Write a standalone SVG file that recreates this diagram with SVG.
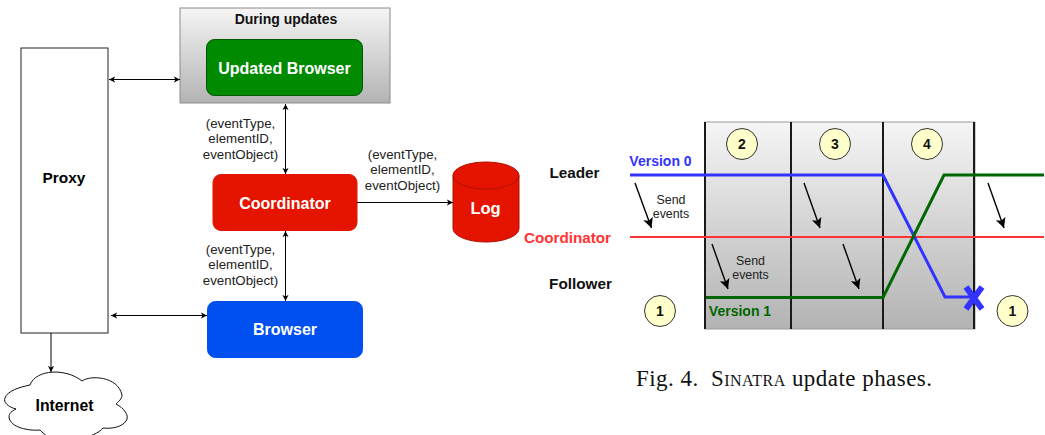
<svg xmlns="http://www.w3.org/2000/svg" width="1045" height="435" viewBox="0 0 1045 435">
<style>
text{font-family:"Liberation Sans",Arial,sans-serif;text-anchor:middle}
.b{font-weight:bold}
.lab{font-size:13.3px;fill:#222}
.w{fill:#fff;font-weight:bold;font-size:16px}
.k{font-weight:bold;font-size:15.300px;fill:#111}
.se{font-size:12.400px;fill:#222}
.c{stroke:#000;stroke-width:1;fill:none}
.ar{stroke:#000;stroke-width:1.4;fill:none;marker-end:url(#big)}
.num{fill:#ffffcc;stroke:#333;stroke-width:1}
.numt{font-weight:bold;font-size:14px;fill:#111}
.v{stroke:#1a1a1a;stroke-width:2;fill:none}
</style>
<defs>
<linearGradient id="g" x1="0" y1="0" x2="0" y2="1"><stop offset="0" stop-color="#f5f5f5"/><stop offset="1" stop-color="#b3b3b3"/></linearGradient>
<marker id="e" viewBox="0 0 8 8" refX="7" refY="4" markerWidth="7" markerHeight="7" orient="auto-start-reverse" markerUnits="userSpaceOnUse"><path d="M0 0.5L7 4L0 7.5L1.8 4Z" fill="#000"/></marker>
<marker id="big" viewBox="0 0 12 12" refX="11" refY="6" markerWidth="11" markerHeight="11" orient="auto" markerUnits="userSpaceOnUse"><path d="M0 0.500L11 6L0 11.500L2.500 6Z" fill="#000"/></marker>
</defs>
<g id="phases">
<rect x="705" y="122" width="270" height="207" fill="url(#g)" stroke="#9a9a9a" stroke-width="1"/>
<path class="v" d="M705 122V329M791 122V329M883 122V329M974 122V329"/>
</g>
<g id="proxy"><rect x="21" y="48" width="87" height="285" fill="#fff" stroke="#222"/><text class="b" x="64" y="183" font-size="15.400">Proxy</text></g>
<g id="during-updates"><rect x="180" y="8" width="210" height="95" fill="url(#g)" stroke="#8c8c8c"/><text class="b" x="286" y="24" font-size="14" fill="#111">During updates</text></g>
<g id="updated-browser"><rect x="206.500" y="39.500" width="156" height="56" rx="8" fill="#008a00" stroke="#005700"/><text class="w" x="284.500" y="74">Updated Browser</text></g>
<g id="coordinator"><rect x="213" y="174.500" width="144" height="56" rx="8" fill="#e51400" stroke="#e51400"/><text class="w" x="285" y="209">Coordinator</text></g>
<g id="browser"><rect x="207.500" y="301.500" width="155" height="56" rx="8" fill="#0050ef" stroke="#0050ef"/><text class="w" x="285" y="335">Browser</text></g>
<g id="log"><path d="M453 175.500A33 13.500 0 0 1 519 175.500V228.500A33 13.500 0 0 1 453 228.500Z" fill="#e51400" stroke="#b20f00"/><path d="M453 175.500A33 13.500 0 0 0 519 175.500" fill="none" stroke="#b20f00"/><text class="w" x="485.500" y="214" style="font-size:16.500px">Log</text></g>
<g id="internet"><path d="M30 385C36 369 66 368 82 381C90 375 118 376 122 395C122 399 118 402 116 404C124 408 130 416 126 421C122 427 112 429 103 428C99 433 90 437 80 438L50 438C46 436 42 432 40 430C30 431 10 428 9 417C9 413 12 411 16 409C8 407 3 402 5 398C7 391 20 387 30 385Z" fill="#fff" stroke="#111" stroke-width="1"/><text class="b" x="64.500" y="411" font-size="15.800">Internet</text></g>
<g id="connectors">
<path class="c" marker-start="url(#e)" marker-end="url(#e)" d="M109 79.500H180"/>
<path class="c" marker-start="url(#e)" marker-end="url(#e)" d="M285.500 104V174"/>
<path class="c" marker-start="url(#e)" marker-end="url(#e)" d="M285.500 231V301"/>
<path class="c" marker-start="url(#e)" marker-end="url(#e)" d="M111 315.500H207"/>
<path class="c" marker-end="url(#e)" d="M51 333V372"/>
<path class="c" marker-end="url(#e)" d="M357 202.500H453"/>
</g>
<g id="labels">
<text class="lab" x="240.500" y="128">(eventType,</text><text class="lab" x="240.500" y="143">elementID,</text><text class="lab" x="240.500" y="159">eventObject)</text>
<text class="lab" x="402.500" y="159">(eventType,</text><text class="lab" x="402.500" y="174">elementID,</text><text class="lab" x="402.500" y="190">eventObject)</text>
<text class="lab" x="240.500" y="254">(eventType,</text><text class="lab" x="240.500" y="269">elementID,</text><text class="lab" x="240.500" y="285">eventObject)</text>
</g>
<g id="timeline">
<path d="M630 237H1044" stroke="#ff3333" stroke-width="2" fill="none"/>
<path d="M630 175H883L945 297H975" stroke="#3333ff" stroke-width="3" fill="none"/>
<path d="M706 297.500H883L944 175H1044" stroke="#006600" stroke-width="3" fill="none"/>
<path d="M966 287L982 309M982 287L966 309" stroke="#3333ff" stroke-width="6" fill="none"/>
<path class="ar" d="M635 183L651.500 228"/>
<path class="ar" d="M804 183L820 228"/>
<path class="ar" d="M843 244L859 289"/>
<path class="ar" d="M712 244L728 289"/>
<path class="ar" d="M988 183L1004 228"/>
<text class="k" x="574.500" y="178">Leader</text>
<text class="k" x="580.500" y="289">Follower</text>
<text x="567.500" y="243" font-size="15.200" font-weight="bold" fill="#ff3333">Coordinator</text>
<text x="660.500" y="165.500" font-size="14" font-weight="bold" fill="#3333ff">Version 0</text>
<text x="740" y="316" font-size="14" font-weight="bold" fill="#006600">Version 1</text>
<text class="se" x="671" y="204">Send</text><text class="se" x="671" y="218">events</text>
<text class="se" x="750.500" y="265">Send</text><text class="se" x="750.500" y="279">events</text>
</g>
<g id="phase-1a"><circle class="num" cx="660" cy="311" r="15.500"/><text class="numt" x="660" y="316">1</text></g>
<g id="phase-2"><circle class="num" cx="742" cy="144" r="15.500"/><text class="numt" x="742" y="149">2</text></g>
<g id="phase-3"><circle class="num" cx="835" cy="144" r="15.500"/><text class="numt" x="835" y="149">3</text></g>
<g id="phase-4"><circle class="num" cx="927" cy="144" r="15.500"/><text class="numt" x="927" y="149">4</text></g>
<g id="phase-1b"><circle class="num" cx="1012.500" cy="311" r="15.500"/><text class="numt" x="1012.500" y="316">1</text></g>
<text x="636" y="386" font-size="23" fill="#111" textLength="296" style="font-family:'Liberation Serif',serif;text-anchor:start">Fig. 4.&#160; <tspan style="font-variant:small-caps">Sinatra</tspan> update phases.</text>
</svg>
